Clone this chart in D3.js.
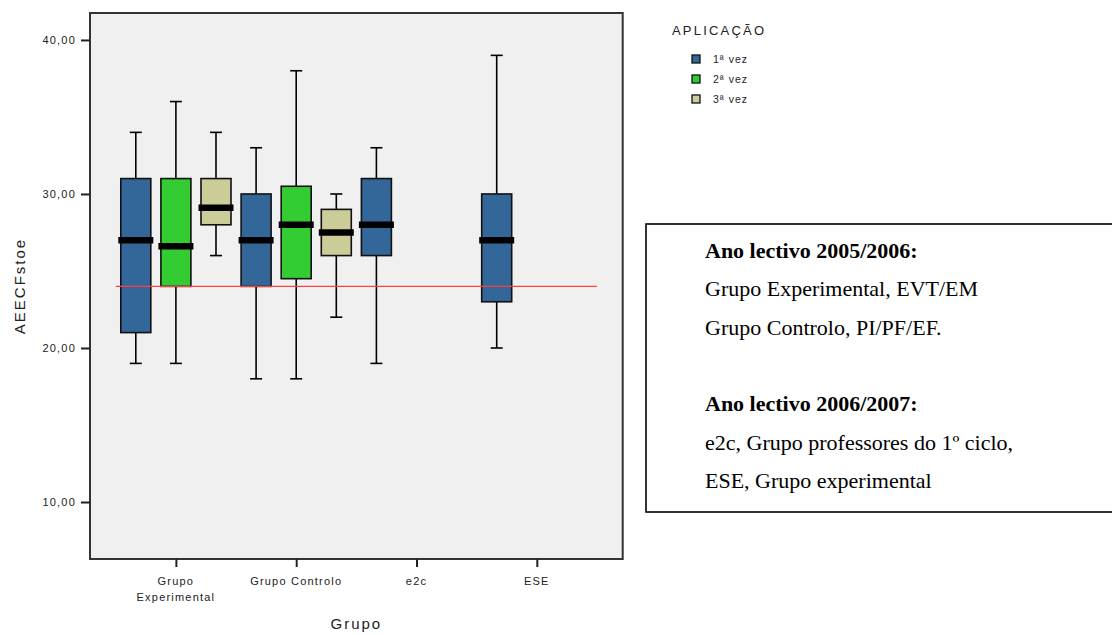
<!DOCTYPE html>
<html>
<head>
<meta charset="utf-8">
<script src="https://cdn.jsdelivr.net/npm/d3@7"></script>
<style>
  html, body { margin: 0; padding: 0; background: #ffffff; }
  svg { display: block; }
</style>
</head>
<body>
<svg id="chart" width="1112" height="635"></svg>
<script>
// ---------------- data ----------------
const groups = ["Grupo Experimental", "Grupo Controlo", "e2c", "ESE"];
const groupLabelLines = [["Grupo", "Experimental"], ["Grupo Controlo"], ["e2c"], ["ESE"]];
const applications = ["1ª vez", "2ª vez", "3ª vez"];
const appColors = ["#336699", "#33cc33", "#cccc99"];

// one entry per box
const boxGroup   = ["Grupo Experimental", "Grupo Experimental", "Grupo Experimental",
                    "Grupo Controlo", "Grupo Controlo", "Grupo Controlo", "e2c", "ESE"];
const boxApp     = ["1ª vez", "2ª vez", "3ª vez", "1ª vez", "2ª vez", "3ª vez", "1ª vez", "1ª vez"];
const whiskerLow = [19, 19, 26, 18, 18, 22, 19, 20];
const q1         = [21, 24, 28, 24, 24.5, 26, 26, 23];
const medianVal  = [27, 26.6, 29.1, 27, 28, 27.5, 28, 27];
const q3         = [31, 31, 31, 30, 30.5, 29, 31, 30];
const whiskerHigh= [34, 36, 34, 33, 38, 30, 33, 39];

const yTicks = [10, 20, 30, 40];
const referenceValue = 24;
const yDomain = [6.3, 41.75];

const yTitle = "AEECFstoe";
const xTitle = "Grupo";
const legendTitle = "APLICAÇÃO";
const noteLines = [
  { text: "Ano lectivo 2005/2006:", bold: true },
  { text: "Grupo Experimental, EVT/EM", bold: false },
  { text: "Grupo Controlo, PI/PF/EF.", bold: false },
  { text: "", bold: false },
  { text: "Ano lectivo 2006/2007:", bold: true },
  { text: "e2c, Grupo professores do 1º ciclo,", bold: false },
  { text: "ESE, Grupo experimental", bold: false }
];

// ---------------- layout ----------------
const svg = d3.select("#chart");
const plot = { left: 90, top: 13, right: 622.7, bottom: 559 };
const sansFont = "'Liberation Sans', Arial, sans-serif";

const x = d3.scalePoint().domain(groups).range([plot.left, plot.right]).padding(0.714);
const step = x.step();
const sub = d3.scalePoint().domain(applications).range([-step / 3, step / 3]);
const y = d3.scaleLinear().domain(yDomain).range([plot.bottom, plot.top]);
const color = d3.scaleOrdinal().domain(applications).range(appColors);

// plot background
svg.append("rect")
  .attr("x", plot.left).attr("y", plot.top)
  .attr("width", plot.right - plot.left).attr("height", plot.bottom - plot.top)
  .attr("fill", "#f0f0f0");

// boxes
const boxW = 30, medW = 35, capW = 12;
const boxes = boxGroup.map((g, i) => ({
  g, app: boxApp[i], lo: whiskerLow[i], q1: q1[i], med: medianVal[i], q3: q3[i], hi: whiskerHigh[i]
}));

const bg = svg.append("g");
boxes.forEach(b => {
  const cx = x(b.g) + sub(b.app);
  const gg = bg.append("g");
  gg.append("line").attr("x1", cx).attr("x2", cx).attr("y1", y(b.q3)).attr("y2", y(b.hi))
    .attr("stroke", "#000").attr("stroke-width", 1.6);
  gg.append("line").attr("x1", cx).attr("x2", cx).attr("y1", y(b.q1)).attr("y2", y(b.lo))
    .attr("stroke", "#000").attr("stroke-width", 1.6);
  gg.append("line").attr("x1", cx - capW / 2).attr("x2", cx + capW / 2).attr("y1", y(b.hi)).attr("y2", y(b.hi))
    .attr("stroke", "#000").attr("stroke-width", 1.6);
  gg.append("line").attr("x1", cx - capW / 2).attr("x2", cx + capW / 2).attr("y1", y(b.lo)).attr("y2", y(b.lo))
    .attr("stroke", "#000").attr("stroke-width", 1.6);
  gg.append("rect")
    .attr("x", cx - boxW / 2).attr("y", y(b.q3))
    .attr("width", boxW).attr("height", y(b.q1) - y(b.q3))
    .attr("fill", color(b.app)).attr("stroke", "#111").attr("stroke-width", 1.6);
  gg.append("line").attr("x1", cx - medW / 2).attr("x2", cx + medW / 2)
    .attr("y1", y(b.med)).attr("y2", y(b.med))
    .attr("stroke", "#000").attr("stroke-width", 6.5);
});

// reference line
svg.append("line")
  .attr("x1", x(groups[0]) - step / 2).attr("x2", x(groups[groups.length - 1]) + step / 2)
  .attr("y1", y(referenceValue)).attr("y2", y(referenceValue))
  .attr("stroke", "#ff4040").attr("stroke-width", 1.3);

// frame
svg.append("rect")
  .attr("x", plot.left).attr("y", plot.top)
  .attr("width", plot.right - plot.left).attr("height", plot.bottom - plot.top)
  .attr("fill", "none").attr("stroke", "#333").attr("stroke-width", 2);

// y axis
const yAxis = d3.axisLeft(y).tickValues(yTicks).tickSize(9).tickPadding(5)
  .tickFormat(d => d3.format(".2f")(d).replace(".", ","));
const yg = svg.append("g").attr("transform", `translate(${plot.left},0)`).call(yAxis);
yg.select(".domain").remove();
yg.selectAll(".tick line").attr("stroke", "#222").attr("stroke-width", 2);
yg.selectAll(".tick text").attr("font-family", sansFont).attr("font-size", 11)
  .attr("letter-spacing", "1.2px").attr("fill", "#222");

// x axis
const xAxis = d3.axisBottom(x).tickSize(8).tickFormat("");
const xg = svg.append("g").attr("transform", `translate(0,${plot.bottom})`).call(xAxis);
xg.select(".domain").remove();
xg.selectAll(".tick line").attr("stroke", "#222").attr("stroke-width", 2);
groups.forEach((g, i) => {
  groupLabelLines[i].forEach((ln, j) => {
    svg.append("text")
      .attr("x", x(g)).attr("y", 585 + j * 15.5)
      .attr("text-anchor", "middle")
      .attr("font-family", sansFont).attr("font-size", 11)
      .attr("letter-spacing", "1.2px").attr("fill", "#222")
      .text(ln);
  });
});

// axis titles
svg.append("text")
  .attr("transform", `translate(25,${(plot.top + plot.bottom) / 2}) rotate(-90)`)
  .attr("text-anchor", "middle")
  .attr("font-family", sansFont).attr("font-size", 15)
  .attr("letter-spacing", "2px").attr("fill", "#222")
  .text(yTitle);
svg.append("text")
  .attr("x", (plot.left + plot.right) / 2).attr("y", 629)
  .attr("text-anchor", "middle")
  .attr("font-family", sansFont).attr("font-size", 15)
  .attr("letter-spacing", "2px").attr("fill", "#222")
  .text(xTitle);

// legend
const lg = svg.append("g");
lg.append("text").attr("x", 672).attr("y", 35)
  .attr("font-family", sansFont).attr("font-size", 13)
  .attr("letter-spacing", "2.2px").attr("fill", "#222")
  .text(legendTitle);
applications.forEach((a, i) => {
  const yy = 55 + i * 20;
  lg.append("rect").attr("x", 692).attr("y", yy).attr("width", 8).attr("height", 8)
    .attr("fill", color(a)).attr("stroke", "#111").attr("stroke-width", 1.3);
  lg.append("text").attr("x", 713).attr("y", yy + 8)
    .attr("font-family", sansFont).attr("font-size", 10.5)
    .attr("letter-spacing", "1px").attr("fill", "#222")
    .text(a);
});

// note box
const note = svg.append("g");
note.append("rect").attr("x", 646).attr("y", 224).attr("width", 470).attr("height", 288)
  .attr("fill", "#fff").attr("stroke", "#000").attr("stroke-width", 1.6);
noteLines.forEach((ln, i) => {
  note.append("text")
    .attr("x", 705).attr("y", 258 + i * 38.3)
    .attr("font-family", "'Liberation Serif', 'Times New Roman', serif")
    .attr("font-size", 22)
    .attr("font-weight", ln.bold ? "bold" : "normal")
    .attr("fill", "#000")
    .text(ln.text);
});
</script>
</body>
</html>
